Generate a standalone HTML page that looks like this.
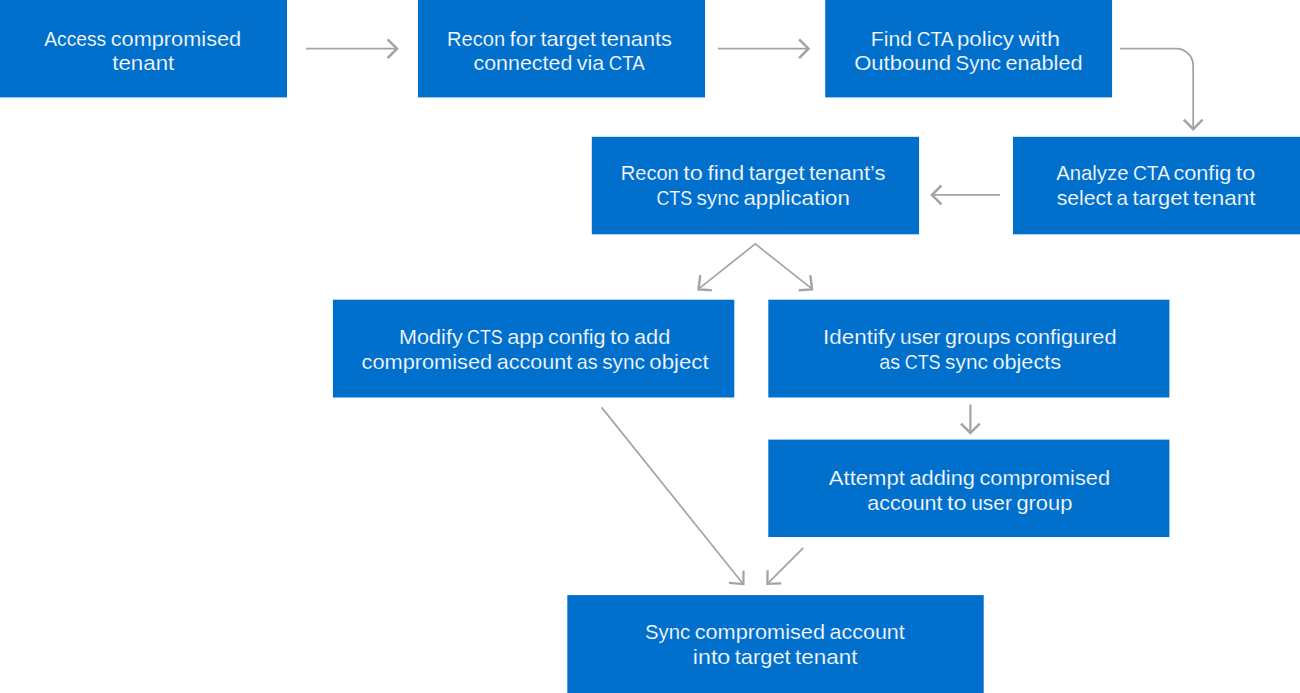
<!DOCTYPE html>
<html lang="en">
<head>
<meta charset="utf-8">
<title>Cross-tenant sync attack flow</title>
<style>
html,body{margin:0;padding:0;background:#fff;}
body{width:1300px;height:693px;overflow:hidden;position:relative;}
svg{position:absolute;left:0;top:0;display:block;}
.b{fill:#0070cc;}
.t text{font-family:"Liberation Sans",sans-serif;font-size:21px;fill:#fff;stroke:#0070cc;stroke-width:0.2px;}
.a path{fill:none;stroke:#a0a5a5;stroke-linecap:butt;stroke-linejoin:miter;}
</style>
</head>
<body>
<svg width="1300" height="693" viewBox="0 0 1300 693">
<g class="b">
<rect x="0" y="0" width="287" height="97.4"/>
<rect x="418" y="0" width="287" height="97.4"/>
<rect x="825.2" y="0" width="286.9" height="97.4"/>
<rect x="1013" y="136.8" width="287" height="97.5"/>
<rect x="591.8" y="136.8" width="327.3" height="97.5"/>
<rect x="332.9" y="299.7" width="401.4" height="97.8"/>
<rect x="768.3" y="299.7" width="401.1" height="97.8"/>
<rect x="768.3" y="439.6" width="401.1" height="97.4"/>
<rect x="567.3" y="595.1" width="416.4" height="97.9"/>
</g>
<g class="a">
<path d="M306 48.7H397.0" stroke-width="1.8"/>
<path d="M387.6 39.3L397.0 48.7L387.6 58.1" stroke-width="2.6"/>
<path d="M718 48.7H808.5" stroke-width="1.8"/>
<path d="M799.1 39.3L808.5 48.7L799.1 58.1" stroke-width="2.6"/>
<path d="M1120 48.7H1176.2A17 17 0 0 1 1193.2 65.7V129.1" stroke-width="1.8"/>
<path d="M1183.8 119.7L1193.2 129.1L1202.6 119.7" stroke-width="2.6"/>
<path d="M1000 194.9H932" stroke-width="1.8"/>
<path d="M941.4 185.5L932 194.9L941.4 204.3" stroke-width="2.6"/>
<path d="M698.3 289.2L755.3 243.9L812.3 289.2" stroke-width="1.7"/>
<path d="M700.3 275.2L698.5 289.5L711.8 290.3M810.3 275.2L812.1 289.5L798.8 290.3" stroke-width="2.4"/>
<path d="M970.4 404.4V433" stroke-width="2.2"/>
<path d="M961.0 423.6L970.4 433L979.8 423.6" stroke-width="2.6"/>
<path d="M601.6 407.4L743 583.8" stroke-width="1.7"/>
<path d="M743.5 570.8L743.4 584.1L729 582.8" stroke-width="2.3"/>
<path d="M803.3 547.8L767.8 583.4" stroke-width="1.8"/>
<path d="M767.6 570.2L767.4 583.9L781.2 583.3" stroke-width="2.3"/>
</g>
<g class="t">
<text y="45.5"><tspan x="44.2" textLength="62.0" lengthAdjust="spacingAndGlyphs">Access</tspan> <tspan x="110.7" textLength="130.5" lengthAdjust="spacingAndGlyphs">compromised</tspan></text>
<text y="70.0"><tspan x="112.3" textLength="61.9" lengthAdjust="spacingAndGlyphs">tenant</tspan></text>
<text y="45.5"><tspan x="447.0" textLength="58.1" lengthAdjust="spacingAndGlyphs">Recon</tspan> <tspan x="509.6" textLength="26.3" lengthAdjust="spacingAndGlyphs">for</tspan> <tspan x="540.4" textLength="55.7" lengthAdjust="spacingAndGlyphs">target</tspan> <tspan x="600.6" textLength="71.3" lengthAdjust="spacingAndGlyphs">tenants</tspan></text>
<text y="70.0"><tspan x="473.5" textLength="98.8" lengthAdjust="spacingAndGlyphs">connected</tspan> <tspan x="576.8" textLength="27.4" lengthAdjust="spacingAndGlyphs">via</tspan> <tspan x="608.7" textLength="35.9" lengthAdjust="spacingAndGlyphs">CTA</tspan></text>
<text y="45.5"><tspan x="870.7" textLength="41.5" lengthAdjust="spacingAndGlyphs">Find</tspan> <tspan x="916.7" textLength="35.8" lengthAdjust="spacingAndGlyphs">CTA</tspan> <tspan x="957.0" textLength="56.9" lengthAdjust="spacingAndGlyphs">policy</tspan> <tspan x="1018.4" textLength="41.6" lengthAdjust="spacingAndGlyphs">with</tspan></text>
<text y="70.0"><tspan x="854.2" textLength="96.9" lengthAdjust="spacingAndGlyphs">Outbound</tspan> <tspan x="955.6" textLength="45.4" lengthAdjust="spacingAndGlyphs">Sync</tspan> <tspan x="1005.5" textLength="77.0" lengthAdjust="spacingAndGlyphs">enabled</tspan></text>
<text y="179.5"><tspan x="1056.2" textLength="72.3" lengthAdjust="spacingAndGlyphs">Analyze</tspan> <tspan x="1133.0" textLength="35.9" lengthAdjust="spacingAndGlyphs">CTA</tspan> <tspan x="1173.4" textLength="57.9" lengthAdjust="spacingAndGlyphs">config</tspan> <tspan x="1235.8" textLength="19.6" lengthAdjust="spacingAndGlyphs">to</tspan></text>
<text y="204.7"><tspan x="1056.7" textLength="55.4" lengthAdjust="spacingAndGlyphs">select</tspan> <tspan x="1116.6" textLength="11.5" lengthAdjust="spacingAndGlyphs">a</tspan> <tspan x="1132.6" textLength="55.9" lengthAdjust="spacingAndGlyphs">target</tspan> <tspan x="1193.0" textLength="62.4" lengthAdjust="spacingAndGlyphs">tenant</tspan></text>
<text y="179.5"><tspan x="620.7" textLength="58.1" lengthAdjust="spacingAndGlyphs">Recon</tspan> <tspan x="683.3" textLength="19.6" lengthAdjust="spacingAndGlyphs">to</tspan> <tspan x="707.4" textLength="36.9" lengthAdjust="spacingAndGlyphs">find</tspan> <tspan x="748.8" textLength="55.7" lengthAdjust="spacingAndGlyphs">target</tspan> <tspan x="809.0" textLength="76.5" lengthAdjust="spacingAndGlyphs">tenant’s</tspan></text>
<text y="204.7"><tspan x="656.4" textLength="35.7" lengthAdjust="spacingAndGlyphs">CTS</tspan> <tspan x="696.5" textLength="42.5" lengthAdjust="spacingAndGlyphs">sync</tspan> <tspan x="743.5" textLength="106.3" lengthAdjust="spacingAndGlyphs">application</tspan></text>
<text y="343.9"><tspan x="399.1" textLength="63.6" lengthAdjust="spacingAndGlyphs">Modify</tspan> <tspan x="467.1" textLength="35.6" lengthAdjust="spacingAndGlyphs">CTS</tspan> <tspan x="507.2" textLength="36.3" lengthAdjust="spacingAndGlyphs">app</tspan> <tspan x="548.0" textLength="57.6" lengthAdjust="spacingAndGlyphs">config</tspan> <tspan x="610.1" textLength="19.5" lengthAdjust="spacingAndGlyphs">to</tspan> <tspan x="634.0" textLength="36.3" lengthAdjust="spacingAndGlyphs">add</tspan></text>
<text y="369.0"><tspan x="361.5" textLength="130.7" lengthAdjust="spacingAndGlyphs">compromised</tspan> <tspan x="496.7" textLength="75.6" lengthAdjust="spacingAndGlyphs">account</tspan> <tspan x="576.8" textLength="20.8" lengthAdjust="spacingAndGlyphs">as</tspan> <tspan x="602.2" textLength="42.6" lengthAdjust="spacingAndGlyphs">sync</tspan> <tspan x="649.3" textLength="59.3" lengthAdjust="spacingAndGlyphs">object</tspan></text>
<text y="343.9"><tspan x="823.1" textLength="72.3" lengthAdjust="spacingAndGlyphs">Identify</tspan> <tspan x="899.9" textLength="40.7" lengthAdjust="spacingAndGlyphs">user</tspan> <tspan x="945.1" textLength="65.4" lengthAdjust="spacingAndGlyphs">groups</tspan> <tspan x="1015.0" textLength="101.5" lengthAdjust="spacingAndGlyphs">configured</tspan></text>
<text y="369.0"><tspan x="879.3" textLength="20.9" lengthAdjust="spacingAndGlyphs">as</tspan> <tspan x="904.7" textLength="35.9" lengthAdjust="spacingAndGlyphs">CTS</tspan> <tspan x="945.1" textLength="42.8" lengthAdjust="spacingAndGlyphs">sync</tspan> <tspan x="992.4" textLength="68.7" lengthAdjust="spacingAndGlyphs">objects</tspan></text>
<text y="485.2"><tspan x="828.8" textLength="76.1" lengthAdjust="spacingAndGlyphs">Attempt</tspan> <tspan x="909.4" textLength="65.6" lengthAdjust="spacingAndGlyphs">adding</tspan> <tspan x="979.5" textLength="130.5" lengthAdjust="spacingAndGlyphs">compromised</tspan></text>
<text y="510.0"><tspan x="867.2" textLength="75.4" lengthAdjust="spacingAndGlyphs">account</tspan> <tspan x="947.1" textLength="19.6" lengthAdjust="spacingAndGlyphs">to</tspan> <tspan x="971.2" textLength="40.7" lengthAdjust="spacingAndGlyphs">user</tspan> <tspan x="1016.4" textLength="56.0" lengthAdjust="spacingAndGlyphs">group</tspan></text>
<text y="639.0"><tspan x="645.1" textLength="45.1" lengthAdjust="spacingAndGlyphs">Sync</tspan> <tspan x="694.7" textLength="130.3" lengthAdjust="spacingAndGlyphs">compromised</tspan> <tspan x="829.5" textLength="75.3" lengthAdjust="spacingAndGlyphs">account</tspan></text>
<text y="664.0"><tspan x="692.8" textLength="37.5" lengthAdjust="spacingAndGlyphs">into</tspan> <tspan x="734.8" textLength="55.8" lengthAdjust="spacingAndGlyphs">target</tspan> <tspan x="795.1" textLength="62.3" lengthAdjust="spacingAndGlyphs">tenant</tspan></text>
</g>
</svg>
</body>
</html>
